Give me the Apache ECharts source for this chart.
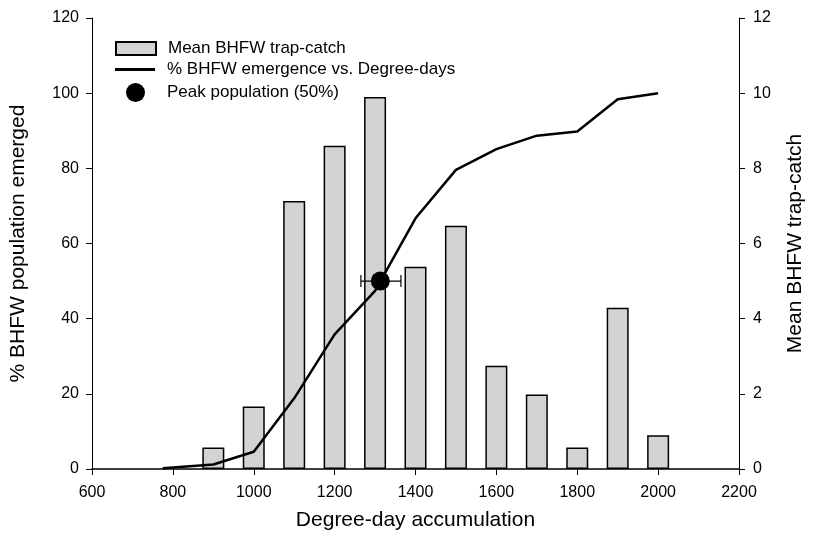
<!DOCTYPE html>
<html>
<head>
<meta charset="utf-8">
<script src="https://cdn.jsdelivr.net/npm/echarts@6/dist/echarts.min.js"></script>
<style>
  html, body { margin: 0; padding: 0; background: #fff; }
  #main { width: 814px; height: 550px; }
</style>
</head>
<body>
<div id="main"></div>
<script>
// bars: mean trap-catch (right axis)
var barDegreeDays = [900, 1000, 1100, 1200, 1300, 1400, 1500, 1600, 1700, 1800, 1900, 2000];
var trapCatch = [0.57, 1.66, 7.13, 8.6, 9.9, 5.38, 6.47, 2.75, 1.98, 0.57, 4.29, 0.9];

// line: cumulative % emergence (left axis)
var lineDegreeDays = [775, 900, 1000, 1100, 1200, 1300, 1400, 1500, 1600, 1700, 1800, 1900, 2000];
var emergence = [0.2, 1.2, 4.6, 18.8, 35.8, 47.4, 66.7, 79.6, 85.1, 88.7, 89.8, 98.4, 100];

// peak population point with horizontal error bar
var peakX = 1313, peakY = 50, peakLow = 1265, peakHigh = 1364;

var font = 'Liberation Sans, Arial, sans-serif';
var legendText = { fontFamily: font, fontSize: 17, color: '#000' };

var myChart = echarts.init(document.getElementById('main'));

myChart.setOption({
    backgroundColor: '#fff',
    animation: false,
    textStyle: { fontFamily: font, color: '#000' },
    grid: { left: 92, right: 75, top: 18, bottom: 81 },
    legend: [
        {
            data: [{ name: 'Mean BHFW trap-catch', icon: 'rect' }],
            left: 115, top: 40, padding: 0,
            itemWidth: 40, itemHeight: 13,
            textStyle: Object.assign({ padding: [0, 0, 0, 7] }, legendText)
        },
        {
            data: [{ name: '% BHFW emergence vs. Degree-days', icon: 'rect' }],
            left: 115, top: 61, padding: 0,
            itemWidth: 40, itemHeight: 3,
            textStyle: Object.assign({ padding: [0, 0, 0, 7] }, legendText)
        },
        {
            data: [{ name: 'Peak population (50%)', icon: 'circle' }],
            left: 126, top: 83, padding: 0,
            itemWidth: 19, itemHeight: 19,
            textStyle: Object.assign({ padding: [0, 0, 0, 17] }, legendText)
        }
    ],
    xAxis: {
        type: 'value',
        min: 600, max: 2200, interval: 200,
        name: 'Degree-day accumulation',
        nameLocation: 'middle', nameGap: 41,
        nameTextStyle: { fontFamily: font, fontSize: 21, color: '#000' },
        axisLine: { onZero: false, lineStyle: { color: '#000', width: 1.5 } },
        axisTick: { inside: false, length: 6, lineStyle: { color: '#000', width: 1 } },
        axisLabel: { fontFamily: font, fontSize: 16, color: '#000', margin: 16,
            formatter: function (v) { return String(v); } },
        splitLine: { show: false }
    },
    yAxis: [
        {
            type: 'value',
            min: 0, max: 120, interval: 20,
            name: '% BHFW population emerged',
            nameLocation: 'middle', nameGap: 63, nameRotate: 90,
            nameTextStyle: { fontFamily: font, fontSize: 21, color: '#000' },
            axisLine: { show: true, lineStyle: { color: '#000', width: 1 } },
            axisTick: { show: true, length: 6, lineStyle: { color: '#000' } },
            axisLabel: { fontFamily: font, fontSize: 16, color: '#000', margin: 13 },
            splitLine: { show: false }
        },
        {
            type: 'value',
            min: 0, max: 12, interval: 2,
            position: 'right',
            name: 'Mean BHFW trap-catch',
            nameLocation: 'middle', nameGap: 46, nameRotate: 90,
            nameTextStyle: { fontFamily: font, fontSize: 21, color: '#000' },
            axisLine: { show: true, lineStyle: { color: '#000', width: 1 } },
            axisTick: { show: true, length: 6, lineStyle: { color: '#000' } },
            axisLabel: { fontFamily: font, fontSize: 16, color: '#000', margin: 14 },
            splitLine: { show: false }
        }
    ],
    series: [
        {
            name: 'Mean BHFW trap-catch',
            type: 'bar',
            yAxisIndex: 1,
            barWidth: 22,
            data: barDegreeDays.map(function (d, i) { return [d, trapCatch[i]]; }),
            itemStyle: { color: '#d3d3d3', borderColor: '#000', borderWidth: 1.5 },
            z: 1
        },
        {
            name: '% BHFW emergence vs. Degree-days',
            type: 'line',
            yAxisIndex: 0,
            symbol: 'none',
            data: lineDegreeDays.map(function (d, i) { return [d, emergence[i]]; }),
            lineStyle: { color: '#000', width: 2.5 },
            itemStyle: { color: '#000' },
            z: 3
        },
        {
            // error bar for the peak
            type: 'custom',
            yAxisIndex: 0,
            silent: true,
            data: [[peakLow, peakHigh, peakY]],
            renderItem: function (params, api) {
                var a = api.coord([api.value(0), api.value(2)]);
                var b = api.coord([api.value(1), api.value(2)]);
                var h = 6;
                var st = { stroke: '#000', lineWidth: 1.2 };
                return {
                    type: 'group',
                    children: [
                        { type: 'line', shape: { x1: a[0], y1: a[1], x2: b[0], y2: b[1] }, style: st },
                        { type: 'line', shape: { x1: a[0], y1: a[1] - h, x2: a[0], y2: a[1] + h }, style: st },
                        { type: 'line', shape: { x1: b[0], y1: b[1] - h, x2: b[0], y2: b[1] + h }, style: st }
                    ]
                };
            },
            z: 4
        },
        {
            name: 'Peak population (50%)',
            type: 'scatter',
            yAxisIndex: 0,
            symbol: 'circle',
            symbolSize: 19,
            data: [[peakX, peakY]],
            itemStyle: { color: '#000', opacity: 1 },
            z: 5
        }
    ]
});
</script>
</body>
</html>
